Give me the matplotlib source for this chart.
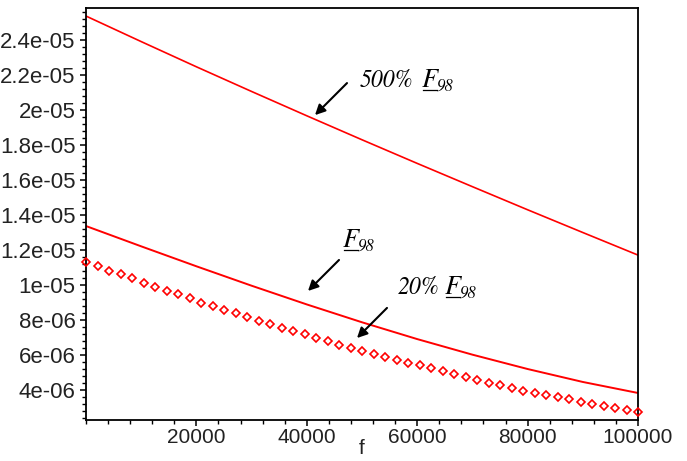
import numpy as np
import matplotlib
matplotlib.use("Agg")
import matplotlib.pyplot as plt
from matplotlib.ticker import MultipleLocator, FuncFormatter, FixedLocator
from matplotlib.lines import Line2D

plt.rcParams["font.family"] = ["Liberation Sans", "DejaVu Sans"]

# x grid for the two solid curves
f_grid = [0, 10000, 20000, 30000, 40000, 50000, 60000, 70000, 80000, 90000, 100000]
# values in units of 1e-6
F500 = [25.37, 23.91, 22.47, 21.06, 19.67, 18.30, 16.95, 15.62, 14.30, 13.00, 11.71]
F98 = [13.37, 12.21, 11.07, 9.96, 8.89, 7.87, 6.91, 6.02, 5.20, 4.46, 3.83]
# point series (20% F98), equally spaced in f from 0 to 100000
F20 = [11.31, 11.09, 10.82, 10.62, 10.40, 10.13, 9.90, 9.67, 9.47, 9.25,
       9.00, 8.80, 8.58, 8.39, 8.18, 7.96, 7.77, 7.56, 7.36, 7.18,
       6.98, 6.78, 6.58, 6.42, 6.24, 6.06, 5.87, 5.72, 5.55, 5.41,
       5.25, 5.07, 4.92, 4.72, 4.58, 4.42, 4.29, 4.13, 3.97, 3.84,
       3.72, 3.61, 3.49, 3.34, 3.21, 3.10, 2.98, 2.86, 2.74]
x_ticks = [20000, 40000, 60000, 80000, 100000]

W, H = 687, 461
fig = plt.figure(figsize=(W / 100, H / 100), dpi=100)
ax = fig.add_axes([86 / W, 1 - 420 / H, (638 - 86) / W, (420 - 8) / H])

red = "#ff0000"
ax.plot(f_grid, np.array(F500) * 1e-6, color=red, lw=1.2)
ax.plot(f_grid, np.array(F98) * 1e-6, color=red, lw=1.4)
x20 = np.linspace(f_grid[0], f_grid[-1], len(F20))
ax.plot(x20, np.array(F20) * 1e-6, ls="none", marker="D", ms=4.0,
        mfc="none", mec=red, mew=1.2, clip_on=False, zorder=5)

ax.set_xlim(0, 100000)
ax.set_ylim(2.286e-6, 25.83e-6)

ax.xaxis.set_major_locator(FixedLocator(x_ticks))
ax.xaxis.set_minor_locator(MultipleLocator(4000))
ax.xaxis.set_major_formatter(FuncFormatter(lambda v, p: "%d" % round(v)))
ax.yaxis.set_major_locator(MultipleLocator(2e-6))
ax.yaxis.set_minor_locator(MultipleLocator(4e-7))
ax.yaxis.set_major_formatter(FuncFormatter(lambda v, p: "%g" % v))

ax.tick_params(axis="both", which="major", direction="out", length=4.3,
               width=1.1, labelsize=15, colors="black", labelcolor="#222222")
ax.tick_params(axis="both", which="minor", direction="out", length=2.8, width=1.0)
ax.tick_params(axis="y", which="major", pad=3.2, labelsize=16)
ax.tick_params(axis="x", which="major", pad=1.5)
for s in ax.spines.values():
    s.set_linewidth(1.3)
    s.set_color("black")

ax.set_xlabel("f", fontsize=15, color="#222222")
ax.xaxis.set_label_coords(0.5, -0.045)

# arrows (data coordinates)
arrow_kw = dict(arrowstyle="-|>", color="black", lw=1.5, mutation_scale=15,
                shrinkA=0, shrinkB=0)
ax.annotate("", xy=(41486, 19.71e-6), xytext=(47283, 21.54e-6), arrowprops=arrow_kw)
ax.annotate("", xy=(40217, 9.66e-6), xytext=(45833, 11.43e-6), arrowprops=arrow_kw)
ax.annotate("", xy=(49094, 6.97e-6), xytext=(54529, 8.69e-6), arrowprops=arrow_kw)

serif = dict(family="STIXGeneral", style="italic", ha="left", va="baseline",
             color="black")


def label(prefix, px_prefix, px_f, base_y):
    if prefix:
        fig.text(px_prefix / W, 1 - base_y / H, prefix, fontsize=17, **serif)
    fig.text(px_f / W, 1 - base_y / H, "F", fontsize=19, **serif)
    fig.text((px_f + 15) / W, 1 - (base_y + 4) / H, "98", fontsize=12, **serif)
    fig.add_artist(Line2D([(px_f + 0.5) / W, (px_f + 15) / W],
                          [1 - (base_y + 2.8) / H] * 2, color="black", lw=0.9))


label("500%", 360, 422, 87)
label(None, 0, 343, 247)
label("20%", 398, 445, 294)

fig.savefig("out.png", dpi=100)
